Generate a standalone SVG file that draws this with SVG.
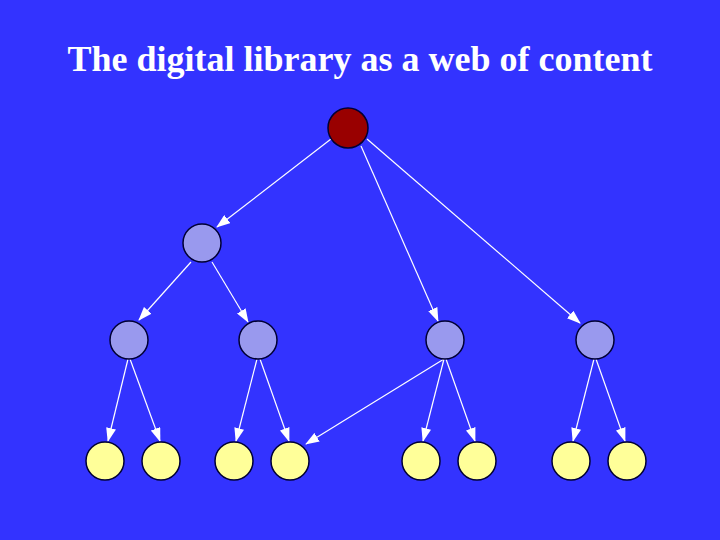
<svg xmlns="http://www.w3.org/2000/svg" width="720" height="540" viewBox="0 0 720 540">
<defs>
<marker id="ah" markerUnits="userSpaceOnUse" markerWidth="14" markerHeight="10" refX="13" refY="5" orient="auto">
<path d="M0,0 L14,5 L0,10 Z" fill="#ffffff"/>
</marker>
<style>
.e{stroke:#ffffff;stroke-width:1.2;fill:none;marker-end:url(#ah)}
.n circle{stroke:#000033;stroke-width:1.5}
.r{fill:#990000}
.m{fill:#9999ee}
.l{fill:#ffff99}
.t{font-family:"Liberation Serif","Times New Roman",serif;font-weight:bold;font-size:36px;fill:#ffffff}
</style>
</defs>
<rect width="720" height="540" fill="#3333ff"/>
<text class="t" x="360" y="71" text-anchor="middle">The digital library as a web of content</text>
<g id="connectors">
<line class="e" x1="331" y1="139" x2="217" y2="227"/>
<line class="e" x1="361" y1="146" x2="438" y2="321"/>
<line class="e" x1="367" y1="139" x2="580" y2="323"/>
<line class="e" x1="191" y1="262" x2="139" y2="320"/>
<line class="e" x1="212" y1="262" x2="248" y2="322"/>
<line class="e" x1="128" y1="359" x2="108" y2="441"/>
<line class="e" x1="130" y1="359" x2="160" y2="441"/>
<line class="e" x1="257" y1="359" x2="236" y2="441"/>
<line class="e" x1="260" y1="359" x2="289" y2="441"/>
<line class="e" x1="444" y1="359" x2="306" y2="444"/>
<line class="e" x1="444" y1="359" x2="423" y2="441"/>
<line class="e" x1="446" y1="359" x2="475" y2="441"/>
<line class="e" x1="594" y1="359" x2="573" y2="441"/>
<line class="e" x1="596" y1="359" x2="625" y2="441"/>
</g>
<g id="root" class="n"><circle class="r" cx="348" cy="128" r="20"/></g>
<g id="n1" class="n"><circle class="m" cx="202" cy="243" r="19"/></g>
<g id="n2" class="n"><circle class="m" cx="129" cy="340" r="19"/></g>
<g id="n3" class="n"><circle class="m" cx="258" cy="340" r="19"/></g>
<g id="n4" class="n"><circle class="m" cx="445" cy="340" r="19"/></g>
<g id="n5" class="n"><circle class="m" cx="595" cy="340" r="19"/></g>
<g id="l1" class="n"><circle class="l" cx="105" cy="461" r="19"/></g>
<g id="l2" class="n"><circle class="l" cx="161" cy="461" r="19"/></g>
<g id="l3" class="n"><circle class="l" cx="234" cy="461" r="19"/></g>
<g id="l4" class="n"><circle class="l" cx="290" cy="461" r="19"/></g>
<g id="l5" class="n"><circle class="l" cx="421" cy="461" r="19"/></g>
<g id="l6" class="n"><circle class="l" cx="477" cy="461" r="19"/></g>
<g id="l7" class="n"><circle class="l" cx="571" cy="461" r="19"/></g>
<g id="l8" class="n"><circle class="l" cx="627" cy="461" r="19"/></g>
</svg>
